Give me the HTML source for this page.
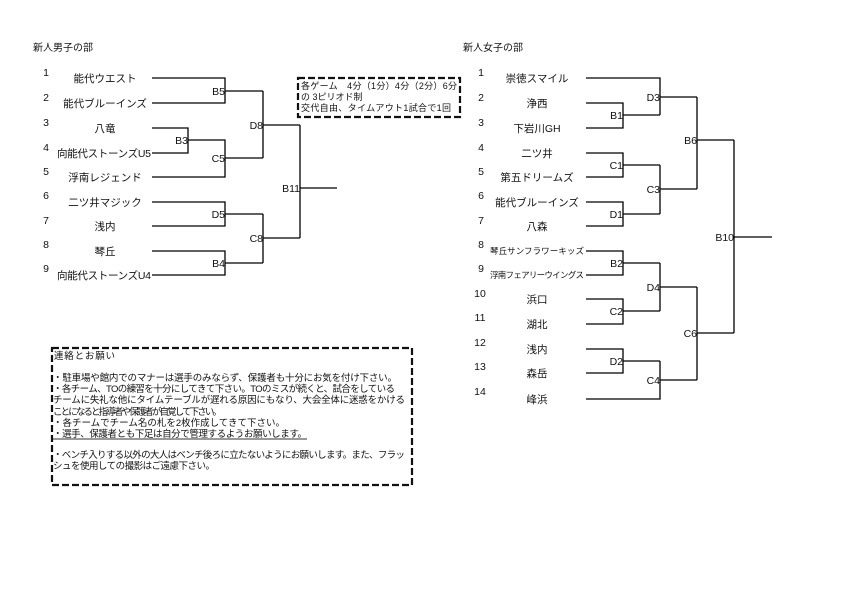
<!DOCTYPE html>
<html><head><meta charset="utf-8"><style>
html,body{margin:0;padding:0;background:#fff;}
svg{display:block;}
text{font-family:"Liberation Sans","Noto Sans CJK JP",sans-serif;fill:#111;}
</style></head><body>
<svg width="842" height="595" viewBox="0 0 842 595" xmlns="http://www.w3.org/2000/svg">
<g stroke="#000" stroke-width="1.3" fill="none">
<path d="M152 78H225V103H152M225 91H263"/>
<path d="M152 128H188V153H152M188 140H225V177H152M225 158H263"/>
<path d="M263 91V158M263 125H300"/>
<path d="M152 202H225V226H152M225 214H263"/>
<path d="M152 251H225V275H152M225 263H263"/>
<path d="M263 214V263M263 238H300"/>
<path d="M300 125V238M300 188H337"/>
<path d="M586 78H660V115M586 103H623V128H586M623 115H660M660 97H697"/>
<path d="M586 153H623V177H586M623 165H660M586 202H623V226H586M623 214H660M660 165V214M660 189H697"/>
<path d="M697 97V189M697 140H734"/>
<path d="M586 251H623V275H586M623 263H660M586 299H623V324H586M623 311H660M660 263V311M660 287H697"/>
<path d="M586 349H623V373H586M623 361H660M660 361V399H586M660 380H697"/>
<path d="M697 287V380M697 333H734"/>
<path d="M734 140V333M734 237H772"/>
</g>
<g stroke="#111" stroke-width="2.2" fill="none" stroke-dasharray="7,3">
<rect x="298" y="78" width="162" height="39"/>
<rect x="52" y="348" width="360" height="137"/>
</g>
<g font-size="10">
<text x="33" y="51">新人男子の部</text>
<text x="463" y="51">新人女子の部</text>
</g>
<g font-size="10.5" text-anchor="middle">
<text x="46" y="76">1</text><text x="46" y="101">2</text><text x="46" y="126">3</text><text x="46" y="151">4</text><text x="46" y="175">5</text><text x="46" y="199">6</text><text x="46" y="224">7</text><text x="46" y="248">8</text><text x="46" y="272">9</text>
<text x="105" y="82">能代ウエスト</text>
<text x="105" y="107">能代ブルーインズ</text>
<text x="105" y="132">八竜</text>
<text x="104" y="157" textLength="94">向能代ストーンズU5</text>
<text x="105" y="181">浮南レジェンド</text>
<text x="105" y="206">二ツ井マジック</text>
<text x="105" y="230">浅内</text>
<text x="105" y="255">琴丘</text>
<text x="104" y="279" textLength="94">向能代ストーンズU4</text>
<text x="481" y="76">1</text><text x="481" y="101">2</text><text x="481" y="126">3</text><text x="481" y="151">4</text><text x="481" y="175">5</text><text x="481" y="199">6</text><text x="481" y="224">7</text><text x="481" y="248">8</text><text x="481" y="272">9</text>
<text x="480" y="297">10</text><text x="480" y="321">11</text><text x="480" y="346">12</text><text x="480" y="370">13</text><text x="480" y="395">14</text>
<text x="537" y="82">崇徳スマイル</text>
<text x="537" y="107">浄西</text>
<text x="537" y="132">下岩川GH</text>
<text x="537" y="157">二ツ井</text>
<text x="537" y="181">第五ドリームズ</text>
<text x="537" y="206">能代ブルーインズ</text>
<text x="537" y="230">八森</text>
<text x="537" y="254" font-size="8.5" textLength="94">琴丘サンフラワーキッズ</text>
<text x="537" y="278" font-size="8.5" textLength="94">浮南フェアリーウイングス</text>
<text x="537" y="303">浜口</text>
<text x="537" y="328">湖北</text>
<text x="537" y="353">浅内</text>
<text x="537" y="377">森岳</text>
<text x="537" y="403">峰浜</text>
</g>
<g font-size="10.5" text-anchor="end">
<text x="225" y="95">B5</text><text x="188" y="144">B3</text><text x="225" y="162">C5</text><text x="263" y="129">D8</text>
<text x="225" y="218">D5</text><text x="225" y="267">B4</text><text x="263" y="242">C8</text><text x="300" y="192">B11</text>
<text x="623" y="119">B1</text><text x="660" y="101">D3</text><text x="623" y="169">C1</text><text x="623" y="218">D1</text><text x="660" y="193">C3</text><text x="697" y="144">B6</text>
<text x="623" y="267">B2</text><text x="623" y="315">C2</text><text x="660" y="291">D4</text><text x="623" y="365">D2</text><text x="660" y="384">C4</text><text x="697" y="337">C6</text><text x="734" y="241">B10</text>
</g>
<g font-size="9">
<text x="301" y="89" textLength="156">各ゲーム　4分（1分）4分（2分）6分</text>
<text x="301" y="100">の 3ピリオド制</text>
<text x="301" y="111" textLength="150">交代自由、タイムアウト1試合で1回</text>
</g>
<g font-size="9.5">
<text x="54" y="359" textLength="61">連絡とお願い</text>
<text x="53" y="381" textLength="344">・駐車場や館内でのマナーは選手のみならず、保護者も十分にお気を付け下さい。</text>
<text x="53" y="392" textLength="342">・各チーム、TOの練習を十分にしてきて下さい。TOのミスが続くと、試合をしている</text>
<text x="53" y="403" textLength="352">チームに失礼な他にタイムテーブルが遅れる原因にもなり、大会全体に迷惑をかける</text>
<text x="53" y="415" textLength="169">ことになると指導者や保護者が自覚して下さい。</text>
<text x="53" y="426" textLength="232">・各チームでチーム名の札を2枚作成してきて下さい。</text>
<text x="53" y="437" textLength="254">・選手、保護者とも下足は自分で管理するようお願いします。</text>
<text x="53" y="458" textLength="352">・ベンチ入りする以外の大人はベンチ後ろに立たないようにお願いします。また、フラッ</text>
<text x="53" y="469" textLength="162">シュを使用しての撮影はご遠慮下さい。</text>
</g>
<line x1="53" y1="439" x2="307" y2="439" stroke="#333" stroke-width="1"/>
</svg>
</body></html>
